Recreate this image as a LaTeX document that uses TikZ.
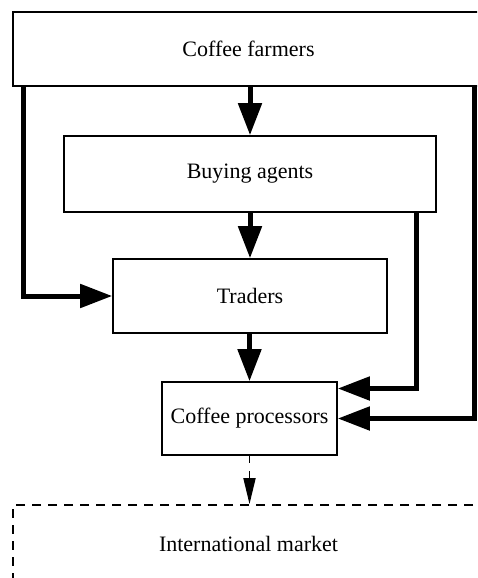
\documentclass[tikz,border=0pt]{standalone}
\usepackage{fontspec}
\setmainfont{Liberation Serif}
\usetikzlibrary{arrows.meta}
\begin{document}
\begin{tikzpicture}[x=1pt,y=-1pt,
  box/.style={draw, line width=1.6pt, rectangle, inner sep=0pt,
    font=\fontsize{22}{26}\selectfont},
  flow/.style={line width=5pt, -{Triangle[length=32pt,width=23pt]}},
  weak/.style={line width=1.8pt, dash pattern=on 7pt off 8pt,
    -{Triangle[length=26pt,width=12pt]}}
]
\useasboundingbox (0,0) rectangle (477,578);
\clip (0,0) rectangle (477,578);

% supply chain stages
\node[box, minimum width=471pt, minimum height=74pt] (farmers) at (248.5,49) {Coffee farmers};
\node[box, minimum width=372pt, minimum height=76pt] (agents) at (250,174) {Buying agents};
\node[box, minimum width=274pt, minimum height=74pt] (traders) at (250,296) {Traders};
\node[box, minimum width=175pt, minimum height=73pt] (procs) at (249.5,418.5) {Coffee processors};
\node[box, dash pattern=on 9pt off 7pt, line width=1.8pt,
      minimum width=471pt, minimum height=78pt] (market) at (248.5,544) {International market};

% main chain
\draw[flow] (farmers.south -| agents.north) -- (agents.north);
\draw[flow] (agents.south) -- (traders.north);
\draw[flow] (traders.south -| procs.north) -- (procs.north);

% bypass routes
\draw[flow] (farmers.south -| 23,0) |- (traders.west);
\draw[flow] (agents.south -| 416,0) |- ([yshift=30pt]procs.east);
\draw[flow] (farmers.south -| 474,0) |- (procs.east);

% export
\draw[weak] (procs.south) -- (procs.south |- market.north);
\end{tikzpicture}
\end{document}
